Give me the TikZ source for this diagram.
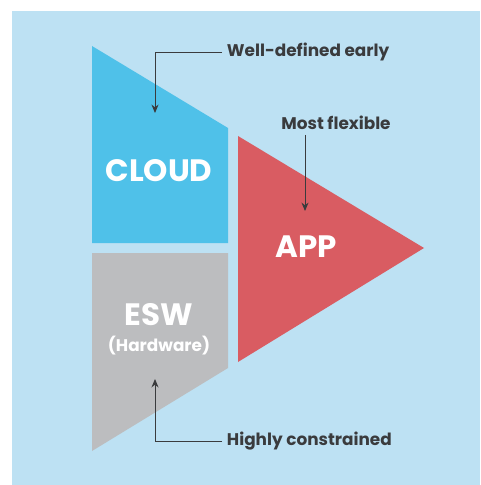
\documentclass[tikz,border=0pt]{standalone}
\usepackage{fontspec}
\setmainfont{Poppins}
\usetikzlibrary{arrows.meta, positioning, calc}
\definecolor{bgblue}{HTML}{BDE1F3}
\definecolor{cloudblue}{HTML}{4FC1E9}
\definecolor{appred}{HTML}{D95C62}
\definecolor{eswgray}{HTML}{BCBDBF}
\definecolor{notegray}{HTML}{3A3B3D}

\begin{document}
\begin{tikzpicture}[
  x=0.025cm, y=-0.025cm,
  block/.style={font=\bfseries\fontsize{22}{24}\selectfont, text=white},
  subblock/.style={font=\bfseries\fontsize{12}{14}\selectfont, text=white},
  note/.style={font=\bfseries\fontsize{12}{14}\selectfont, text=notegray},
  pointer/.style={-{Stealth[length=6pt, width=5pt]}, semithick, draw=notegray}
]
\useasboundingbox (0,0) rectangle (480,485);
\fill[bgblue] (12,11) rectangle (480,485);

% the three layers
\fill[cloudblue] (92,46) -- (228,128) -- (228,243) -- (92,243) -- cycle;
\fill[eswgray] (92,253) -- (228,253) -- (228,368) -- (92,451) -- cycle;
\fill[appred] (238,136) -- (424,248) -- (238,362) -- cycle;

\node[block] (cloud) at (159,171) {CLOUD};
\node[block] (app) at (306,247) {APP};
\node[block] (esw) at (159,315) {ESW};
\node[subblock] (hw) at (159,346) {(Hardware)};

% callouts
\node[note, anchor=west] (early) at (222,52) {Well-defined early};
\node[note] (flex) at (336,123) {Most flexible};
\node[note, anchor=west] (high) at (222,441) {Highly constrained};

\coordinate (earlytip) at (155,113);
\coordinate (flextip) at (305,211);
\coordinate (hightip) at (155,379);

\draw[pointer] (early.west) -| (earlytip);
\draw[pointer] (flex.south -| flextip) -- (flextip);
\draw[pointer] (high.west) -| (hightip);
\end{tikzpicture}
\end{document}
